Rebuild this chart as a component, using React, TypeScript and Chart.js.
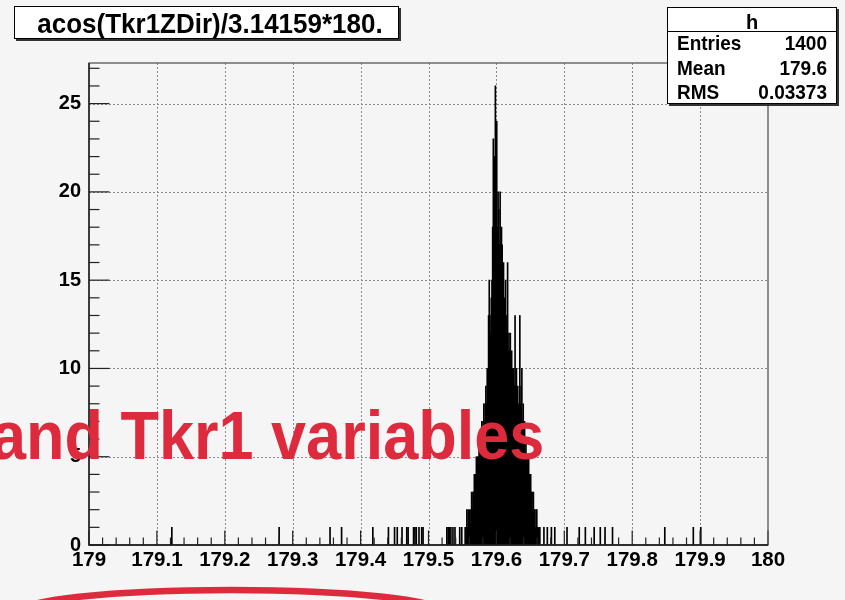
import React, { useEffect, useRef } from 'react';
import { Chart, registerables } from 'chart.js';

Chart.register(...registerables);

// ---- data ----
const titleText = 'acos(Tkr1ZDir)/3.14159*180.';
const statsName = 'h';
const statsLabels = ['Entries', 'Mean', 'RMS'];
const statsValues = ['1400', '179.6', '0.03373'];
const overlayText = 'and Tkr1 variables';

const xTickValues = [179, 179.1, 179.2, 179.3, 179.4, 179.5, 179.6, 179.7, 179.8, 179.9, 180];
const xTickLabels = ['179', '179.1', '179.2', '179.3', '179.4', '179.5', '179.6', '179.7', '179.8', '179.9', '180'];
const yTickValues = [0, 5, 10, 15, 20, 25];
const yTickLabels = ['0', '5', '10', '15', '20', '25'];
const xMin = 179;
const xMax = 180;
const yMax = 27.3;

// core of the peak: consecutive bins of width 0.001 starting at coreFirstBin (bin centre)
const binWidth = 0.001;
const coreFirstBin = 179.5565;
const coreCounts = [
  2, 1, 2, 1, 2, 1, 2, 3, 2, 3,
  3, 4, 3, 4, 5, 4, 5, 5, 6, 5,
  6, 5, 7, 6, 7, 8, 7, 8, 9, 8,
  10, 9, 13, 15, 13, 12, 14, 15, 18, 23,
  19, 22, 26, 21, 24, 18, 20, 19, 17, 20,
  16, 18, 17, 15, 16, 14, 13, 15, 12, 13,
  16, 11, 12, 11, 12, 10, 11, 10, 9, 10,
  9, 13, 9, 10, 8, 9, 8, 7, 13, 8,
  9, 10, 7, 8, 6, 7, 5, 6, 5, 5,
  4, 5, 4, 3, 4, 3, 3, 2, 3, 2,
  2, 1, 2, 2, 1,
];

// isolated entries on both tails
const lowTailX = [
  179.122, 179.280, 179.355, 179.372, 179.418, 179.441, 179.450, 179.454, 179.461, 179.468,
  179.470, 179.478, 179.480, 179.482, 179.486, 179.490, 179.492, 179.527, 179.529, 179.531,
  179.533, 179.536, 179.539, 179.546, 179.549, 179.554,
];
const lowTailCounts = [
  1, 1, 1, 1, 1, 1, 1, 1, 1, 1,
  1, 1, 1, 1, 1, 1, 1, 1, 1, 1,
  1, 1, 1, 1, 1, 1,
];
const highTailX = [
  179.662, 179.664, 179.670, 179.675, 179.681, 179.686, 179.704, 179.722, 179.731, 179.744,
  179.753, 179.760, 179.771, 179.848, 179.890, 179.901,
];
const highTailCounts = [
  1, 1, 1, 1, 1, 1, 1, 1, 1, 1,
  1, 1, 1, 1, 1, 1,
];

// ---- styling ----
const FONT = "'Liberation Sans', Arial, Helvetica, sans-serif";
const BG = '#f5f5f5';
const RED = '#de2a3d';

const histPoints = [
  ...lowTailX.map((x, i) => ({ x, y: lowTailCounts[i] })),
  ...coreCounts.map((c, i) => ({ x: coreFirstBin + i * binWidth, y: c })),
  ...highTailX.map((x, i) => ({ x, y: highTailCounts[i] })),
];

const rootPlugin = {
  id: 'rootLook',
  beforeDraw(chart: any) {
    const { ctx, width, height } = chart;
    ctx.save();
    ctx.fillStyle = BG;
    ctx.fillRect(0, 0, width, height);
    ctx.restore();
  },
  beforeDatasetsDraw(chart: any) {
    const { ctx, chartArea: a, scales } = chart;
    const x = scales.x;
    const y = scales.y;
    ctx.save();
    ctx.strokeStyle = '#8c8c8c';
    ctx.lineWidth = 1;
    ctx.setLineDash([2, 2]);
    xTickValues.forEach((v) => {
      if (v === xMin || v === xMax) return;
      const px = Math.round(x.getPixelForValue(v)) + 0.5;
      ctx.beginPath();
      ctx.moveTo(px, a.top);
      ctx.lineTo(px, a.bottom);
      ctx.stroke();
    });
    yTickValues.forEach((v) => {
      if (v === 0) return;
      const py = Math.round(y.getPixelForValue(v)) + 0.5;
      ctx.beginPath();
      ctx.moveTo(a.left, py);
      ctx.lineTo(a.right, py);
      ctx.stroke();
    });
    ctx.restore();
  },
  afterDatasetsDraw(chart: any) {
    const { ctx, chartArea: a, scales } = chart;
    const x = scales.x;
    const y = scales.y;
    ctx.save();
    ctx.strokeStyle = '#222';
    ctx.lineWidth = 1.2;
    // x ticks (pointing up into the frame)
    for (let k = 0; k < xTickValues.length; k++) {
      const v0 = xTickValues[k];
      const px = x.getPixelForValue(v0);
      ctx.beginPath();
      ctx.moveTo(px, a.bottom);
      ctx.lineTo(px, a.bottom - 14.5);
      ctx.stroke();
      if (k < xTickValues.length - 1) {
        const v1 = xTickValues[k + 1];
        for (let m = 1; m < 5; m++) {
          const pm = x.getPixelForValue(v0 + ((v1 - v0) * m) / 5);
          ctx.beginPath();
          ctx.moveTo(pm, a.bottom);
          ctx.lineTo(pm, a.bottom - 7.5);
          ctx.stroke();
        }
      }
    }
    // y ticks (pointing right into the frame)
    for (let k = 0; k < yTickValues.length; k++) {
      const v0 = yTickValues[k];
      const py = y.getPixelForValue(v0);
      ctx.beginPath();
      ctx.moveTo(a.left, py);
      ctx.lineTo(a.left + 20.5, py);
      ctx.stroke();
      const v1 = k < yTickValues.length - 1 ? yTickValues[k + 1] : yMax;
      for (let m = 1; v0 + m < v1 && m < 5; m++) {
        const pm = y.getPixelForValue(v0 + m);
        ctx.beginPath();
        ctx.moveTo(a.left, pm);
        ctx.lineTo(a.left + 10.5, pm);
        ctx.stroke();
      }
    }
    // frame
    ctx.strokeStyle = '#555';
    ctx.lineWidth = 1.3;
    ctx.strokeRect(a.left, a.top, a.right - a.left, a.bottom - a.top);
    ctx.strokeStyle = '#111';
    ctx.beginPath();
    ctx.moveTo(a.left, a.top);
    ctx.lineTo(a.left, a.bottom);
    ctx.lineTo(a.right, a.bottom);
    ctx.stroke();
    ctx.restore();
  },
  afterDraw(chart: any) {
    const { ctx } = chart;
    ctx.save();
    ctx.strokeStyle = RED;
    ctx.lineWidth = 6.5;
    ctx.beginPath();
    ctx.ellipse(231, 613.2, 215, 23.2, 0, 0, Math.PI * 2);
    ctx.stroke();
    ctx.restore();
  },
};

function HistChart() {
  const ref = useRef<HTMLCanvasElement | null>(null);
  useEffect(() => {
    if (!ref.current) return;
    const chart = new Chart(ref.current, {
      type: 'bar',
      data: {
        datasets: [
          {
            data: histPoints as any,
            backgroundColor: '#000',
            borderWidth: 0,
            barThickness: 1,
          },
        ],
      },
      options: {
        responsive: false,
        animation: false,
        events: [],
        layout: { padding: { top: 63, right: 77, left: 0, bottom: 0 } },
        plugins: { legend: { display: false }, tooltip: { enabled: false }, title: { display: false } },
        scales: {
          x: {
            type: 'linear',
            min: xMin,
            max: xMax,
            offset: false,
            grid: { display: false, drawTicks: false, offset: false },
            border: { display: false },
            ticks: {
              color: '#000',
              font: { family: FONT, size: 20.5, weight: 'bold' },
              padding: 3,
              maxRotation: 0,
              autoSkip: false,
              callback: (_v: any, i: number) => xTickLabels[i],
            },
            afterBuildTicks: (s: any) => {
              s.ticks = xTickValues.map((value) => ({ value }));
            },
            afterFit: (s: any) => {
              s.height = 55;
            },
          },
          y: {
            type: 'linear',
            min: 0,
            max: yMax,
            grid: { display: false, drawTicks: false },
            border: { display: false },
            ticks: {
              color: '#000',
              font: { family: FONT, size: 20, weight: 'bold' },
              padding: 8,
              autoSkip: false,
              callback: (_v: any, i: number) => yTickLabels[i],
            },
            afterBuildTicks: (s: any) => {
              s.ticks = yTickValues.map((value) => ({ value }));
            },
            afterFit: (s: any) => {
              s.width = 89;
            },
          },
        },
      } as any,
      plugins: [rootPlugin],
    });
    return () => chart.destroy();
  }, []);
  return <canvas ref={ref} width={845} height={600} style={{ display: 'block', width: 845, height: 600 }} />;
}

const abs = (o: any): React.CSSProperties => ({ position: 'absolute', whiteSpace: 'nowrap', ...o });

export default function App() {
  return (
    <div style={{ position: 'fixed', left: 0, top: 0, width: 845, height: 600, background: BG, overflow: 'hidden', fontFamily: FONT }}>
      <HistChart />
      {/* title box */}
      <div style={abs({ left: 14, top: 6, width: 385, height: 33, boxSizing: 'border-box', border: '1px solid #000', background: '#fff', boxShadow: '2px 2px 0 #333' })} />
      <div style={abs({ left: 14, top: 11, width: 392, textAlign: 'center', fontSize: 26, lineHeight: '26px', fontWeight: 'bold', color: '#000', transform: 'scaleY(1.06)', transformOrigin: '0 22px' })}>{titleText}</div>
      {/* stats box */}
      <div style={abs({ left: 667, top: 7, width: 170, height: 97, boxSizing: 'border-box', border: '1px solid #000', background: '#fff', boxShadow: '2px 2px 0 #333' })} />
      <div style={abs({ left: 668, top: 31, width: 168, height: 1, background: '#000' })} />
      <div style={abs({ left: 667, top: 11.5, width: 170, textAlign: 'center', fontSize: 20, lineHeight: '20px', fontWeight: 'bold', color: '#000' })}>{statsName}</div>
      {statsLabels.map((lab, i) => (
        <React.Fragment key={lab}>
          <div style={abs({ left: 677, top: 34 + i * 24.5, fontSize: 19, lineHeight: '19px', fontWeight: 'bold', color: '#000', transform: 'scaleY(1.06)', transformOrigin: '0 16px' })}>{lab}</div>
          <div style={abs({ right: 845 - 827, top: 34 + i * 24.5, fontSize: 19, lineHeight: '19px', fontWeight: 'bold', color: '#000', textAlign: 'right', transform: 'scaleY(1.06)', transformOrigin: '0 16px' })}>{statsValues[i]}</div>
        </React.Fragment>
      ))}
      {/* slide overlay text */}
      <div style={abs({ left: -9, top: 406, fontSize: 63, lineHeight: '63px', fontWeight: 'bold', color: RED, transform: 'scaleY(1.1)', transformOrigin: '0 53.3px' })}>{overlayText}</div>
    </div>
  );
}
